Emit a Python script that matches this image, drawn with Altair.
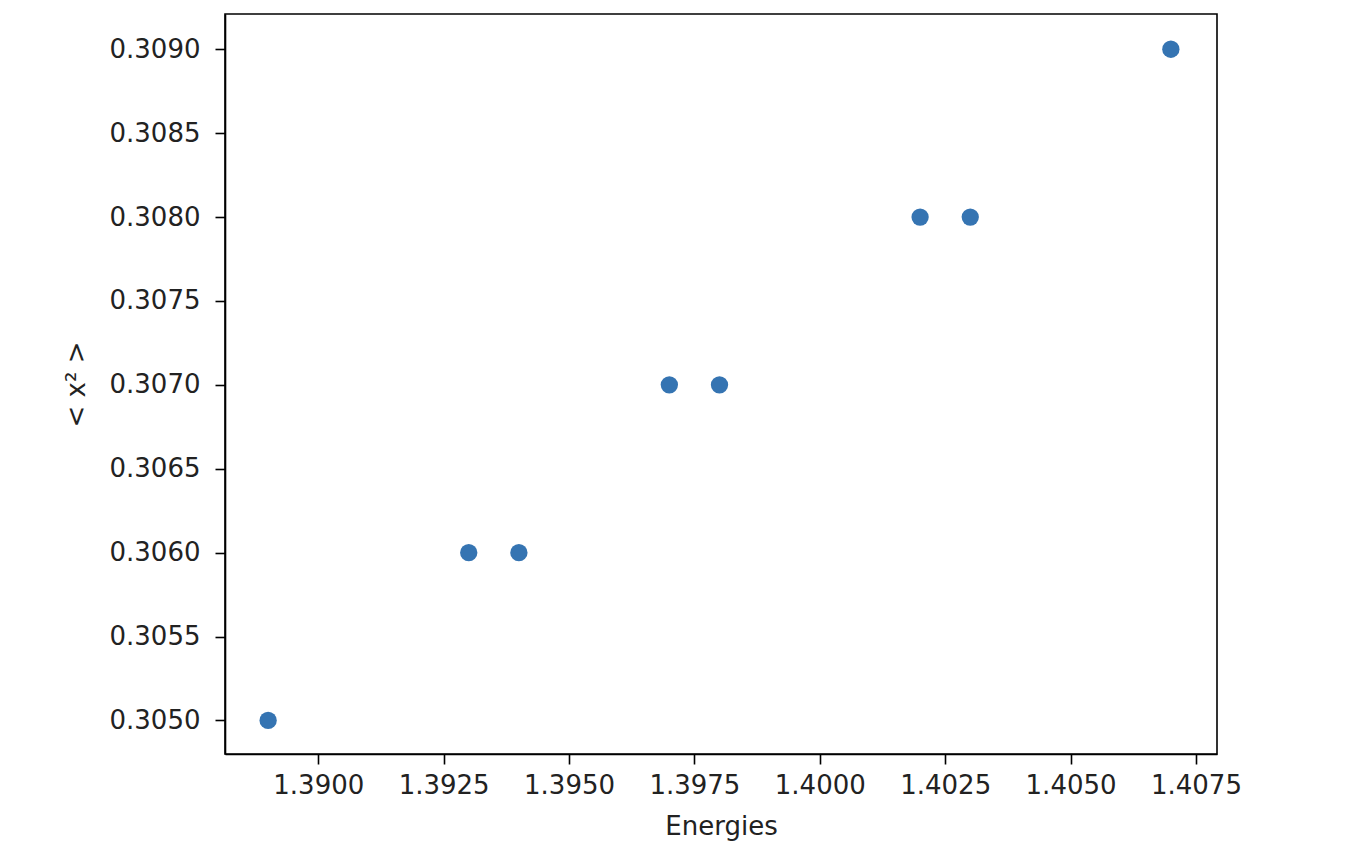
import altair as alt
import pandas as pd

energies = [1.389, 1.393, 1.394, 1.397, 1.398, 1.402, 1.403, 1.407]
x2_values = [0.305, 0.306, 0.306, 0.307, 0.307, 0.308, 0.308, 0.309]
x_ticks = [1.3900, 1.3925, 1.3950, 1.3975, 1.4000, 1.4025, 1.4050, 1.4075]
y_ticks = [0.3050, 0.3055, 0.3060, 0.3065, 0.3070, 0.3075, 0.3080, 0.3085, 0.3090]

df = pd.DataFrame({"Energies": energies, "x2": x2_values})

font = "DejaVu Sans"

chart = alt.Chart(df).mark_circle(size=300, opacity=1, color="#3574b2").encode(
    x=alt.X("Energies:Q",
            scale=alt.Scale(domain=[1.38814, 1.40792], nice=False, zero=False),
            axis=alt.Axis(title="Energies", values=x_ticks, format=".4f", grid=False,
                          tickSize=10, labelPadding=8, titlePadding=15)),
    y=alt.Y("x2:Q",
            scale=alt.Scale(domain=[0.3048, 0.30921], nice=False, zero=False),
            axis=alt.Axis(title="< x² >", values=y_ticks, format=".4f", grid=False,
                          tickSize=10, labelPadding=15, titlePadding=20)),
).properties(
    width=992, height=740,
    autosize=alt.AutoSizeParams(type="none"),
    padding={"left": 217, "top": 6, "right": 40, "bottom": 90},
).configure_view(
    stroke="#000000", strokeWidth=1.6
).configure_axis(
    labelFont=font, titleFont=font, labelFontSize=26, titleFontSize=26,
    labelColor="#222222", titleColor="#222222", titleFontWeight="normal",
    domainColor="#000000", tickColor="#000000", domainWidth=1.6, tickWidth=1.6,
)

chart.save("out.html", embed_options={"renderer": "svg", "actions": False})
